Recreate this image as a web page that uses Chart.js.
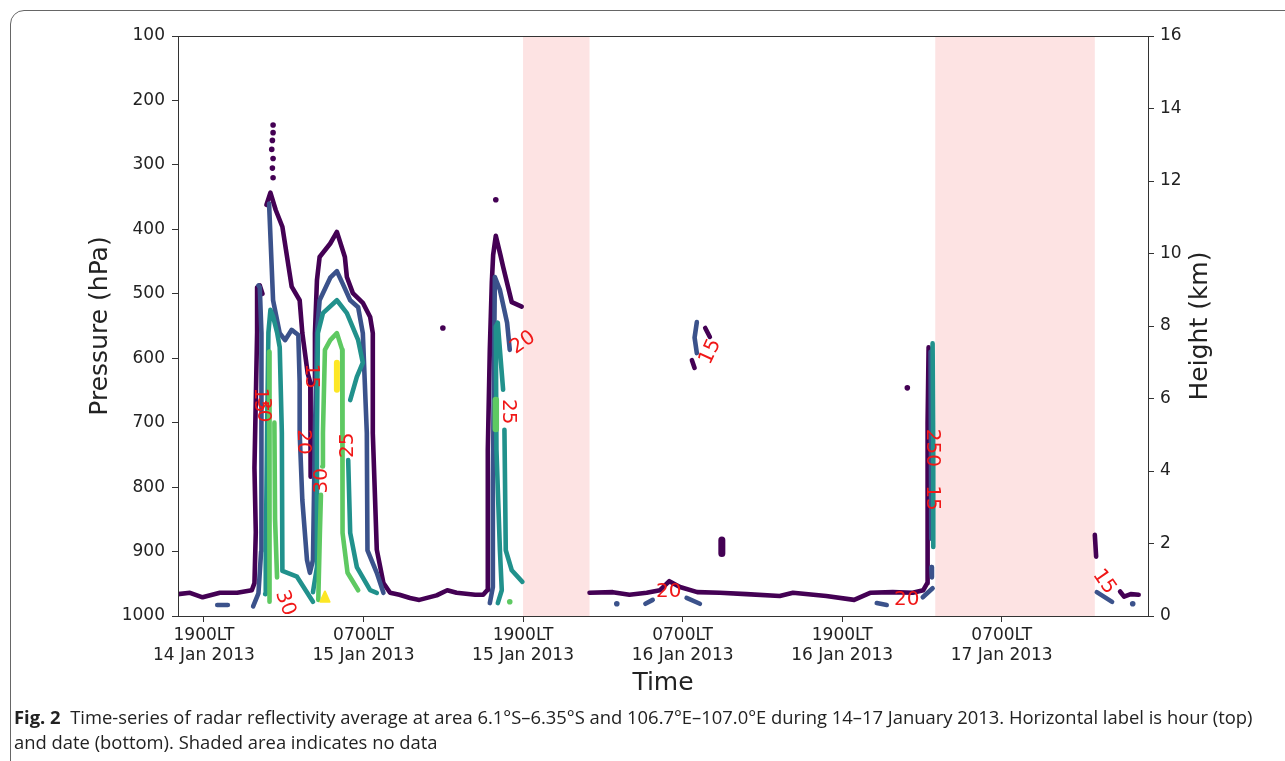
<!DOCTYPE html>
<html><head><meta charset="utf-8">
<script src="https://cdn.jsdelivr.net/npm/chart.js@4/dist/chart.umd.min.js"></script>
<style>
html,body{margin:0;padding:0;background:#fff;width:1285px;height:761px;overflow:hidden;}
#frame{position:absolute;left:10px;top:10px;width:1300px;height:800px;border:1px solid #666;border-radius:14px;box-sizing:border-box;}
#wrap{position:absolute;left:0;top:0;width:1285px;height:761px;}
#cap{position:absolute;left:14px;top:704px;font-family:"Open Sans",sans-serif;font-size:18.4px;color:#222;line-height:25px;white-space:nowrap;}
</style></head><body>
<div id="frame"></div>
<div id="wrap"><canvas id="c" width="1285" height="761"></canvas></div>
<div id="cap"><b>Fig. 2</b>&nbsp; Time-series of radar reflectivity average at area 6.1°S–6.35°S and 106.7°E–107.0°E during 14–17 January 2013. Horizontal label is hour (top)<br>and date (bottom). Shaded area indicates no data</div>
<script>
// ---- axis ticks ----
const tickHours = [0, 12, 24, 36, 48, 60];
const hourLabels = ["1900LT", "0700LT", "1900LT", "0700LT", "1900LT", "0700LT"];
const dateLabels = ["14 Jan 2013", "15 Jan 2013", "15 Jan 2013", "16 Jan 2013", "16 Jan 2013", "17 Jan 2013"];
// no-data bands (hours since 1900LT 14 Jan)
const noDataStart = [24, 55];
const noDataEnd = [29, 67];

// ---- contour lines: [hour, pressure hPa] ----
// 15 dBZ
const c15_left = [[-1.95,966],[-1.05,964],[-0.1,971],[1.2,964],[2.5,964],[3.6,960],[3.8,949],[3.9,870],[3.8,770],[3.9,665],[4.0,560],[4.0,490],[4.2,487],[4.4,500]];
const c15_spike = [[4.7,362],[5.0,343],[5.4,370],[5.9,396],[6.6,489],[7.2,510],[7.4,561],[7.8,623],[8.0,638],[8.0,700],[8.05,784]];
const c15_storm2 = [[8.3,640],[8.35,561],[8.5,479],[8.7,443],[9.5,422],[10.0,404],[10.6,443],[10.75,474],[11.2,499],[11.95,514],[12.5,536],[12.7,561],[12.7,716],[13.0,897],[13.5,949],[14.0,964],[14.7,967],[15.5,972],[16.2,975],[17.5,968],[18.3,960],[19.0,964],[20.4,967],[21.0,967],[21.3,960],[21.35,898],[21.35,742],[21.5,587],[21.65,483],[21.75,440],[21.95,410],[22.3,440],[22.5,458],[23.15,513],[23.9,520]];
const c15_after = [[29.0,964],[30.75,963],[32.0,967],[33.3,964],[34.3,960],[35.0,946],[35.8,955],[37.1,963],[38.8,964],[40.8,966],[43.3,969],[44.3,964],[46.8,969],[48.9,975],[50.1,964],[51.8,963],[53.3,964],[54.1,960],[54.4,949],[54.4,867],[54.45,700],[54.5,583]];
const c15_right = [[67.0,874],[67.1,908]];
const c15_right2 = [[68.9,962],[69.2,970],[69.7,966],[70.3,967]];
const c15_bit1 = [[37.7,553],[38.05,567]];
const c15_bit2 = [[36.7,603],[36.9,615]];
const c15_blob = [[38.95,882],[38.95,903]];
const c15_dots = [[5.2,238],[5.2,250],[5.15,262],[5.1,276],[5.2,290],[5.15,305],[5.2,320],[17.97,553],[52.9,646],[21.95,354]];
// 20 dBZ
const c20_dash = [[1.0,983],[1.8,983]];
const c20_left = [[3.7,985],[4.1,965],[4.3,900],[4.35,720],[4.3,561],[4.2,490],[4.1,487]];
const c20_mid = [[4.9,360],[5.2,510],[5.7,561],[6.1,572],[6.6,556],[7.1,564],[7.2,638],[7.2,716],[7.4,820],[7.75,913],[7.97,933],[8.2,913],[8.35,716],[8.5,561],[8.7,510],[9.5,475],[10.0,465],[10.45,485],[11.0,510],[11.6,521],[11.95,561],[12.25,716],[12.3,898],[13.0,933],[13.5,964]];
const c20_storm3 = [[21.5,980],[21.73,955],[21.73,794],[21.88,474],[22.26,494],[22.8,545],[23.0,587]];
const c20_d2 = [[33.2,981],[33.75,975]];
const c20_d3 = [[36.3,972],[37.3,981]];
const c20_arc = [[37.07,544],[36.9,568],[37.07,592]];
const c20_d4 = [[50.6,980],[51.35,983]];
const c20_d5 = [[54.06,971],[54.8,957]];
const c20_v = [[54.65,590],[54.7,880]];
const c20_v2 = [[54.7,924],[54.75,940]];
const c20_right = [[67.15,963],[68.3,978]];
const c20_dots = [[31.05,981],[69.85,981]];
// 25 dBZ
const c25_left = [[4.6,966],[4.65,905],[4.75,716],[4.85,560],[5.0,525],[5.2,535],[5.5,560],[5.7,583],[5.86,716],[5.9,930],[7.0,939],[8.2,978]];
const c25_s2a = [[8.2,963],[8.5,924],[8.5,716],[8.57,561],[8.95,530],[10.0,510],[10.75,530],[11.6,572],[11.95,607],[11.5,629],[11.0,665]];
const c25_s2b = [[10.85,758],[11.0,871],[11.5,924],[12.5,960],[13.0,964]];
const c25_s3a = [[22.1,980],[22.4,960],[22.26,898],[22.0,742],[21.95,551],[22.1,545],[22.26,587],[22.5,649]];
const c25_s3b = [[22.6,711],[22.7,898],[23.15,929],[23.95,947]];
const c25_right = [[54.8,577],[54.85,750],[54.85,893]];
// 30 dBZ
const c30_left1 = [[4.9,590],[4.95,716],[4.95,950],[4.9,978]];
const c30_left2 = [[5.3,700],[5.35,850],[5.5,940]];
const c30_s2a = [[8.6,975],[8.72,871],[8.8,812]];
const c30_s2b = [[8.9,768],[8.95,716],[9.1,587],[9.5,572],[10.0,561],[10.4,587],[10.4,716],[10.45,871],[10.8,933],[11.6,960]];
const c30_blob = [[21.95,665],[21.95,710]];
const c30_dots = [[23.0,978]];
// 35 dBZ
const c35_blob = [[10.0,607],[10.0,649]];
const c35_tri = [[8.75,978],[9.1,962],[9.45,978],[8.75,978]];

// contour labels
const labelTexts = ["20","25","15","20","25","30","15","30","30","15","20","20","250","15","15"];
const labelHours = [24.0,22.85,8.05,7.45,10.83,8.85,4.2,4.45,6.1,38.1,34.95,52.85,54.8,54.75,67.7];
const labelPress = [576,683,628,730,735,790,665,680,980,590,963,975,739,817,947];
const labelAngles = [-35,90,90,90,-90,-90,90,90,70,-65,0,0,90,90,55];

const COL = {15:'#440154', 20:'#3b528b', 25:'#21918c', 30:'#5ec962', 35:'#fde725'};
const LW = 4.6;

function seg(arr, lvl, w) {
  return {data: arr.map(([x,y]) => ({x, y})), showLine: true, borderColor: COL[lvl], backgroundColor: COL[lvl],
    borderWidth: w || LW, pointRadius: 0, fill: false, tension: 0, borderCapStyle: 'round', borderJoinStyle: 'round', yAxisID: 'y'};
}
function dots(arr, lvl, r) {
  return {data: arr.map(([x,y]) => ({x, y})), showLine: false, borderColor: COL[lvl], backgroundColor: COL[lvl],
    pointRadius: r || 2.8, pointBorderWidth: 0, yAxisID: 'y'};
}

const datasets = [
  seg(c35_blob, 35, 6),
  Object.assign(seg(c35_tri, 35, 2), {fill: 'shape'}),
  seg(c30_left1, 30), seg(c30_left2, 30), seg(c30_s2a, 30), seg(c30_s2b, 30), seg(c30_blob, 30, 6.5), dots(c30_dots, 30),
  seg(c25_left, 25), seg(c25_s2a, 25), seg(c25_s2b, 25), seg(c25_s3a, 25), seg(c25_s3b, 25), seg(c25_right, 25),
  seg(c20_dash, 20), seg(c20_left, 20), seg(c20_mid, 20), seg(c20_storm3, 20), seg(c20_d2, 20), seg(c20_d3, 20),
  seg(c20_arc, 20), seg(c20_d4, 20), seg(c20_d5, 20), seg(c20_v, 20), seg(c20_v2, 20), seg(c20_right, 20), dots(c20_dots, 20),
  seg(c15_left, 15), seg(c15_spike, 15), seg(c15_storm2, 15), seg(c15_after, 15), seg(c15_right, 15), seg(c15_right2, 15),
  seg(c15_bit1, 15), seg(c15_bit2, 15), seg(c15_blob, 15, 7), dots(c15_dots, 15)
];

const FONT = "'DejaVu Sans', sans-serif";

const bandPlugin = {
  id: 'bands',
  beforeDatasetsDraw(chart) {
    const {ctx, chartArea: a, scales: {x}} = chart;
    ctx.save();
    ctx.fillStyle = '#fde3e3';
    for (let i = 0; i < noDataStart.length; i++) {
      const x0 = x.getPixelForValue(noDataStart[i]), x1 = x.getPixelForValue(noDataEnd[i]);
      ctx.fillRect(x0, a.top, x1 - x0, a.bottom - a.top);
    }
    ctx.restore();
  },
  afterDatasetsDraw(chart) {
    const {ctx, scales: {x, y}} = chart;
    ctx.save();
    ctx.fillStyle = '#f01818';
    ctx.font = "20px " + FONT;
    ctx.textAlign = 'center';
    ctx.textBaseline = 'middle';
    for (let i = 0; i < labelTexts.length; i++) {
      ctx.save();
      ctx.translate(x.getPixelForValue(labelHours[i]), y.getPixelForValue(labelPress[i]));
      ctx.rotate(labelAngles[i] * Math.PI / 180);
      ctx.fillText(labelTexts[i], 0, 0);
      ctx.restore();
    }
    ctx.restore();
  },
  afterDraw(chart) {
    const {ctx, chartArea: a} = chart;
    ctx.save();
    ctx.strokeStyle = '#333';
    ctx.lineWidth = 1;
    ctx.strokeRect(a.left + 0.5, a.top + 0.5, a.right - a.left, a.bottom - a.top);
    ctx.fillStyle = '#222';
    ctx.font = "25px " + FONT;
    ctx.textAlign = 'center';
    ctx.textBaseline = 'middle';
    ctx.translate(1200, (a.top + a.bottom) / 2);
    ctx.rotate(-Math.PI / 2);
    ctx.fillText('Height (km)', 0, 0);
    ctx.restore();
  }
};

new Chart(document.getElementById('c'), {
  type: 'scatter',
  data: {datasets},
  options: {
    responsive: false, animation: false, devicePixelRatio: 1,
    layout: {padding: {left: 81, right: 77, top: 36, bottom: 59}},
    plugins: {legend: {display: false}, tooltip: {enabled: false}},
    scales: {
      x: {
        type: 'linear', min: -1.95, max: 71, position: 'bottom',
        afterBuildTicks: s => { s.ticks = tickHours.map(v => ({value: v})); },
        afterFit: s => { s.height = 86; },
        ticks: {autoSkip: false, maxRotation: 0, padding: 3, color: '#222', font: {family: FONT, size: 17},
          callback: (v, i) => [hourLabels[i], dateLabels[i]]},
        grid: {drawOnChartArea: false, drawTicks: true, tickLength: 6, color: '#333'},
        border: {display: true, color: '#333'},
        title: {display: true, text: 'Time', color: '#222', font: {family: FONT, size: 25}, padding: {top: 4, bottom: 4}}
      },
      y: {
        type: 'linear', min: 100, max: 1000, reverse: true, position: 'left',
        afterFit: s => { s.width = 97; },
        ticks: {stepSize: 100, padding: 7, color: '#222', font: {family: FONT, size: 17}, callback: v => String(v)},
        grid: {drawOnChartArea: false, drawTicks: true, tickLength: 6, color: '#333'},
        border: {display: true, color: '#333'},
        title: {display: true, text: 'Pressure (hPa)', color: '#222', font: {family: FONT, size: 25}, padding: {top: 4, bottom: 4}}
      },
      y2: {
        type: 'linear', min: 0, max: 16, position: 'right', display: true,
        afterFit: s => { s.width = 60; },
        ticks: {stepSize: 2, padding: 6, color: '#222', font: {family: FONT, size: 17}, callback: v => String(v)},
        grid: {drawOnChartArea: false, drawTicks: true, tickLength: 6, color: '#333'},
        border: {display: true, color: '#333'}
      }
    }
  },
  plugins: [bandPlugin]
});
</script>
</body></html>
